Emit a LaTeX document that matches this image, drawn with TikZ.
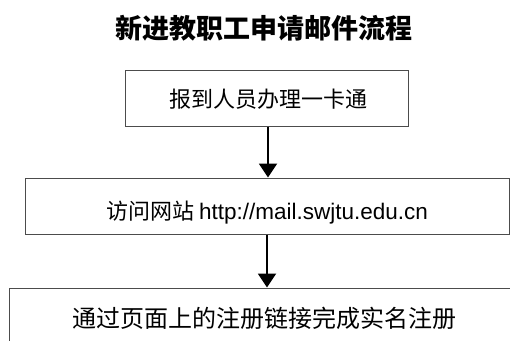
\documentclass[tikz,border=0pt]{standalone}
\usepackage{fontspec}
\setmainfont{Noto Sans CJK SC}
\newfontfamily\latinfont{Liberation Sans}
\usetikzlibrary{arrows.meta}
\tikzset{
  boxshape/.style={draw=black!70, line width=1pt, rectangle, inner sep=0pt},
  boxtext/.style={font=\fontsize{22}{26}\selectfont, inner sep=0pt},
  flowarrow/.style={line width=2pt, -{Triangle[length=14pt,width=18pt]}}
}
\begin{document}
\begin{tikzpicture}[x=1pt,y=-1pt]
\useasboundingbox (0,0) rectangle (510,340);
\clip (0,0) rectangle (510,340);
\node[font=\fontsize{27}{30}\selectfont\bfseries, inner sep=0pt] (title) at (264,28) {新进教职工申请邮件流程};
\node[boxshape, minimum width=283pt, minimum height=56pt] (b1) at (266.5,98) {};
\node[boxtext] (t1) at (268,99) {报到人员办理一卡通};
\node[boxshape, minimum width=484pt, minimum height=56pt] (b2) at (267,206) {};
\node[boxtext] (t2) at (267,213) {访问网站 {\latinfont\fontsize{22.5}{26}\selectfont http://mail.swjtu.edu.cn}};
\node[boxshape, minimum width=560pt, minimum height=100pt] (b3) at (289,338) {};
\node[boxtext, font=\fontsize{24}{28}\selectfont] (t3) at (264,318) {通过页面上的注册链接完成实名注册};
\draw[flowarrow] (b1.south -| t1) -- (b2.north -| t1);
\draw[flowarrow] (b2.south -| t2) -- (b3.north -| t2);
\end{tikzpicture}
\end{document}
